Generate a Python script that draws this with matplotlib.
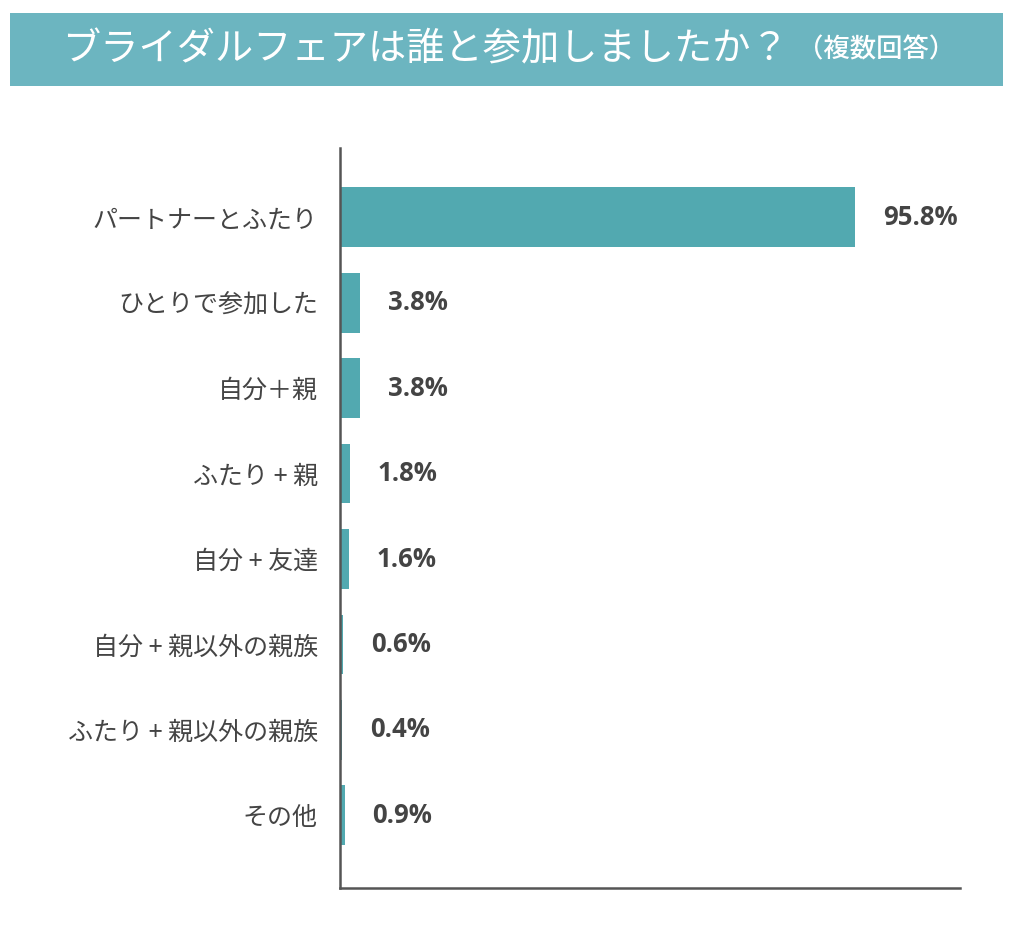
import matplotlib
matplotlib.use("Agg")
import matplotlib.pyplot as plt
from matplotlib.patches import Rectangle

plt.rcParams['font.family'] = ['Noto Sans CJK JP', 'DejaVu Sans']

title_main = "ブライダルフェアは誰と参加しましたか？"
title_sub = "（複数回答）"
categories = ["パートナーとふたり", "ひとりで参加した", "自分＋親", "ふたり + 親",
              "自分 + 友達", "自分 + 親以外の親族", "ふたり + 親以外の親族", "その他"]
values = [95.8, 3.8, 3.8, 1.8, 1.6, 0.6, 0.4, 0.9]
value_labels = ["95.8%", "3.8%", "3.8%", "1.8%", "1.6%", "0.6%", "0.4%", "0.9%"]

bar_color = "#52a9b0"
banner_color = "#6cb5c0"
text_color = "#444444"
axis_color = "#555555"

fig = plt.figure(figsize=(10.24, 9.32), dpi=100)
fig.patch.set_facecolor("white")

# Title banner
fig.patches.append(Rectangle((10/1024, 1-86/932), 993/1024, 73/932,
                             transform=fig.transFigure, facecolor=banner_color,
                             edgecolor="none", zorder=0))
fig.text(62/1024, 1-50/932, title_main, color="white", fontsize=27.5,
         ha="left", va="center")
fig.text(955/1024, 1-50/932, title_sub, color="white", fontsize=19,
         ha="right", va="center", fontweight="medium")

ax = fig.add_axes([340/1024, 1-888/932, 620/1024, 740/932])
y = list(range(len(categories)))
ax.barh(y, values, height=0.70, color=bar_color, zorder=2)
ax.set_xlim(0, 620/5.376)
ax.set_ylim(len(categories)-1+0.85, -0.81)
ax.set_yticks(y)
ax.set_yticklabels(categories, fontsize=18, color=text_color)
ax.tick_params(axis='y', length=0, pad=16)
ax.set_xticks([])
for s in ["top", "right"]:
    ax.spines[s].set_visible(False)
for s in ["left", "bottom"]:
    ax.spines[s].set_color(axis_color)
    ax.spines[s].set_linewidth(1.8)

for yi, v, lab in zip(y, values, value_labels):
    ax.annotate(lab, xy=(v, yi), xytext=(20, 0), textcoords="offset points",
                ha="left", va="center", fontsize=18.5, fontweight="bold",
                color=text_color, family=["Open Sans", "DejaVu Sans"])

fig.savefig("out.png", dpi=100)
